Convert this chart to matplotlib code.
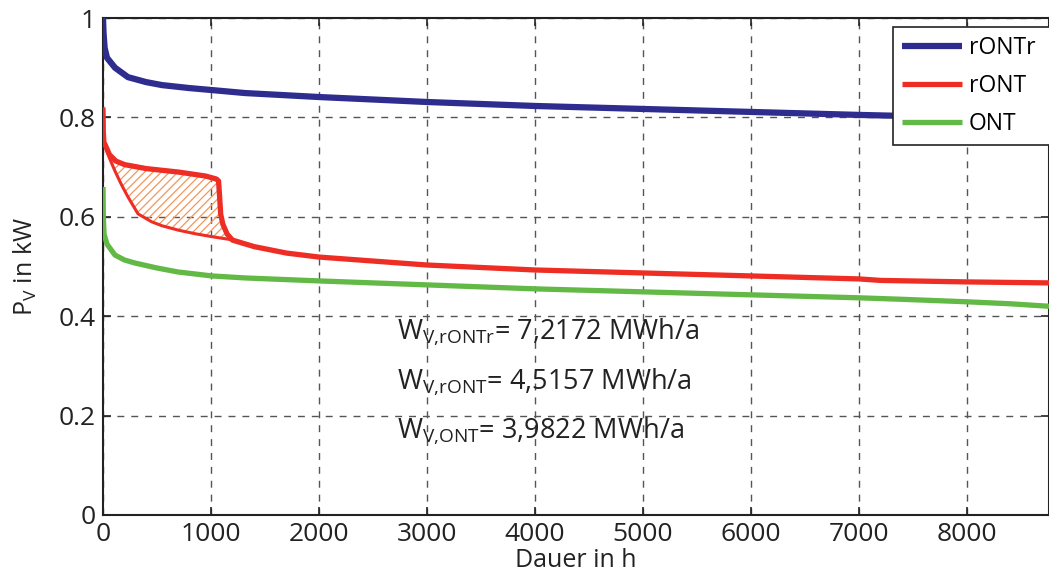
import numpy as np
import matplotlib
matplotlib.use("Agg")
import matplotlib.pyplot as plt

plt.rcParams['font.family'] = ['Open Sans', 'DejaVu Sans']
plt.rcParams['mathtext.default'] = 'regular'
plt.rcParams['hatch.linewidth'] = 0.9

# ---- data ----
h_rontr = [0, 5, 15, 37, 111, 231, 400, 546, 800, 1009, 1315, 2000, 3000, 4000, 5000, 6000, 7000, 8000, 8760]
p_rontr = [1.0, 0.97, 0.94, 0.92, 0.90, 0.881, 0.871, 0.865, 0.859, 0.855, 0.849, 0.841, 0.831, 0.823,
           0.817, 0.811, 0.805, 0.80, 0.795]

h_ront = [0, 3, 8, 20, 60, 120, 200, 400, 700, 950, 1050, 1070, 1080, 1090, 1110, 1150, 1200,
          1400, 1700, 2000, 3000, 4000, 5000, 6000, 7000, 7200, 8000, 8760]
p_ront = [0.82, 0.77, 0.75, 0.745, 0.725, 0.712, 0.705, 0.697, 0.69, 0.682, 0.676, 0.672, 0.64, 0.605,
          0.585, 0.565, 0.553, 0.54, 0.527, 0.519, 0.503, 0.493, 0.487, 0.481, 0.475, 0.472, 0.469, 0.467]

h_ront_low = [8, 30, 60, 111, 170, 231, 324, 450, 546, 700, 852, 1009, 1157, 1200]
p_ront_low = [0.75, 0.735, 0.718, 0.692, 0.665, 0.640, 0.606, 0.590, 0.582, 0.573, 0.566, 0.560, 0.555, 0.553]

h_ont = [0, 3, 10, 37, 111, 200, 296, 500, 694, 1009, 1315, 2000, 3000, 4000, 5000, 6000, 7000, 7400,
         8000, 8400, 8760]
p_ont = [0.66, 0.60, 0.565, 0.545, 0.523, 0.513, 0.507, 0.497, 0.489, 0.481, 0.477, 0.471, 0.463, 0.455,
         0.449, 0.443, 0.437, 0.434, 0.429, 0.425, 0.42]

labels = ['rONTr', 'rONT', 'ONT']
energy_texts = [r'W$_{V{,}rONTr}$= 7,2172 MWh/a',
                r'W$_{V{,}rONT}$= 4,5157 MWh/a',
                r'W$_{V{,}ONT}$= 3,9822 MWh/a']

c_blue = '#2e2c8e'
c_red = '#ee2d24'
c_green = '#62b946'
c_hatch = '#f5965a'

fig = plt.figure(figsize=(10.49, 5.79), dpi=100)
ax = fig.add_axes([103/1049, 1-515/579, 1-103/1049, (515-18)/579])

# hatched area between upper and lower rONT curve
up_h = [h for h in h_ront if 8 <= h <= 1200]
up_p = [p for h, p in zip(h_ront, p_ront) if 8 <= h <= 1200]
poly_h = up_h + h_ront_low[::-1]
poly_p = up_p + p_ront_low[::-1]
ax.fill(poly_h, poly_p, facecolor='none', edgecolor=c_hatch, linewidth=0, hatch='////', zorder=2)

l1, = ax.plot(h_rontr, p_rontr, color=c_blue, lw=4.5, zorder=3, solid_capstyle='butt')
l2, = ax.plot(h_ront, p_ront, color=c_red, lw=3.8, zorder=3, solid_capstyle='butt')
ax.plot(h_ront_low, p_ront_low, color=c_red, lw=2.2, zorder=3)
l3, = ax.plot(h_ont, p_ont, color=c_green, lw=3.8, zorder=3, solid_capstyle='butt')

ax.set_xlim(0, 8760)
ax.set_ylim(0, 1)
ax.set_xticks(np.arange(0, 8001, 1000))
ax.set_yticks([0, 0.2, 0.4, 0.6, 0.8, 1.0])
ax.set_yticklabels(['0', '0.2', '0.4', '0.6', '0.8', '1'])
ax.grid(True, color='#555555', linestyle=(0, (5, 5)), linewidth=1.0)
ax.tick_params(direction='in', top=True, right=True, labelsize=19, length=6, width=1.2, pad=5, colors='#222222')
for s in ax.spines.values():
    s.set_linewidth(1.5)
    s.set_color('#222222')

ax.set_xlabel('Dauer in h', fontsize=18, labelpad=1, color='#222222')
ax.set_ylabel(r'P$_V$ in kW', fontsize=18, labelpad=14, color='#222222')

ys = [0.368, 0.268, 0.169]
for t, y in zip(energy_texts, ys):
    ax.text(2722, y, t, fontsize=19.5, va='center', ha='left', color='#222222')

leg = ax.legend([l1, l2, l3], labels, loc='upper left',
                bbox_to_anchor=(893/1049, 0, 180/1049, 1-27/579), bbox_transform=fig.transFigure,
                mode='expand', framealpha=1.0,
                fontsize=16.5, frameon=True, fancybox=False, edgecolor='#222222',
                handlelength=2.6, labelspacing=0.6, borderpad=0.4, handletextpad=0.3,
                borderaxespad=0)
leg.get_frame().set_linewidth(1.2)
leg.set_zorder(10)

fig.savefig('out.png', dpi=100)
